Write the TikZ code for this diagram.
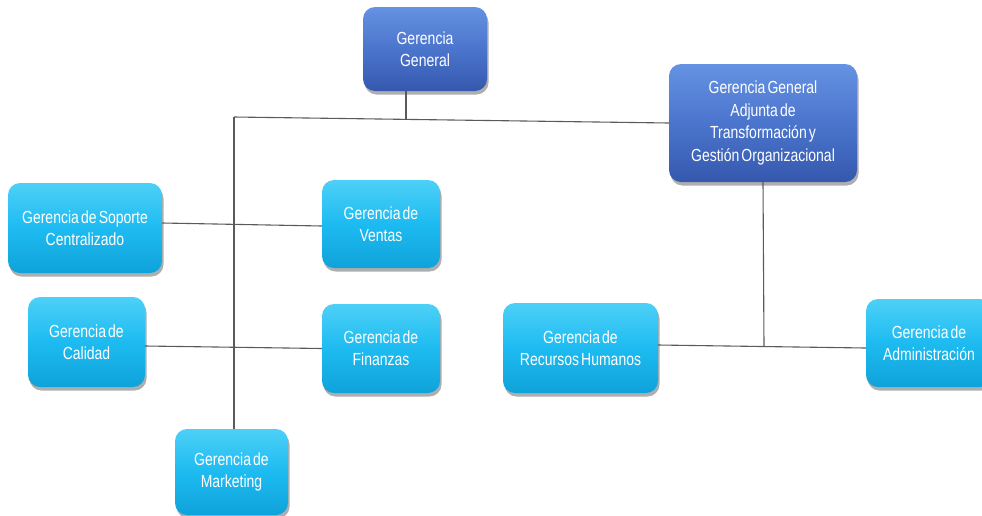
\documentclass[tikz,border=0pt]{standalone}
\usepackage{fontspec}
\setmainfont{Liberation Sans}[FakeStretch=0.8, WordSpace=0.55]
\usetikzlibrary{shadows}

\definecolor{navytop}{HTML}{6592E2}
\definecolor{navymid}{HTML}{4B75CD}
\definecolor{navybot}{HTML}{3558AE}
\definecolor{skytop}{HTML}{4DD0F7}
\definecolor{skymid}{HTML}{1DBBF1}
\definecolor{skybot}{HTML}{0FA2DA}
\definecolor{wire}{HTML}{5A5A5A}

\begin{document}
\begin{tikzpicture}[x=1pt,y=-1pt,
  unit/.style={rounded corners=12pt, align=center, text=white, inner sep=0pt,
    font=\fontsize{17.5}{21.7}\selectfont,
    drop shadow={shadow xshift=1.5pt, shadow yshift=-3.5pt, opacity=.45, fill=black!70}},
  navyunit/.style={unit, top color=navytop, bottom color=navybot, middle color=navymid},
  skyunit/.style={unit, top color=skytop, bottom color=skybot, middle color=skymid},
  link/.style={draw=wire, line width=1.1pt}]

\useasboundingbox (0,0) rectangle (982,515);
\clip (0,0) rectangle (982,515);

% top level
\node[navyunit, minimum width=124pt, minimum height=84pt] (gg) at (425,49) {Gerencia\\General};
\node[navyunit, minimum width=188pt, minimum height=118pt, font=\fontsize{17.5}{22.8}\selectfont] (adj) at (763,123)
  {Gerencia General\\Adjunta de\\Transformación y\\Gestión Organizacional};

% departments
\node[skyunit, minimum width=154pt, minimum height=90pt] (sop) at (85,228) {Gerencia de Soporte\\Centralizado};
\node[skyunit, minimum width=118pt, minimum height=88pt] (ven) at (381,224) {Gerencia de\\Ventas};
\node[skyunit, minimum width=117pt, minimum height=90pt] (cal) at (86.5,342) {Gerencia de\\Calidad};
\node[skyunit, minimum width=118pt, minimum height=89pt] (fin) at (381,348.5) {Gerencia de\\Finanzas};
\node[skyunit, minimum width=155pt, minimum height=90pt] (rrh) at (580.5,348) {Gerencia de\\Recursos Humanos};
\node[skyunit, minimum width=126pt, minimum height=88pt] (adm) at (929,343) {Gerencia de\\Administración};
\node[skyunit, minimum width=113pt, minimum height=86pt] (mkt) at (231.5,472) {Gerencia de\\Marketing};

% junction points
\coordinate (jl) at (234,117);
\coordinate (jt) at (406,118.5);
\coordinate (jr) at (764,346.5);

% connectors
\path[link] (jl) -- (adj.west);
\path[link] (gg.south -| jt) -- (jt);
\path[link] (jl) -- (jl |- mkt.north);
\path[link] ([yshift=5pt]sop.east) -- ([yshift=-2pt]ven.west);
\path[link] ([yshift=-4pt]cal.east) -- (fin.west);
\path[link] ([yshift=3pt]rrh.east) -- ([yshift=-5pt]adm.west);
\path[link] (adj.south) -- (jr);
\end{tikzpicture}
\end{document}
